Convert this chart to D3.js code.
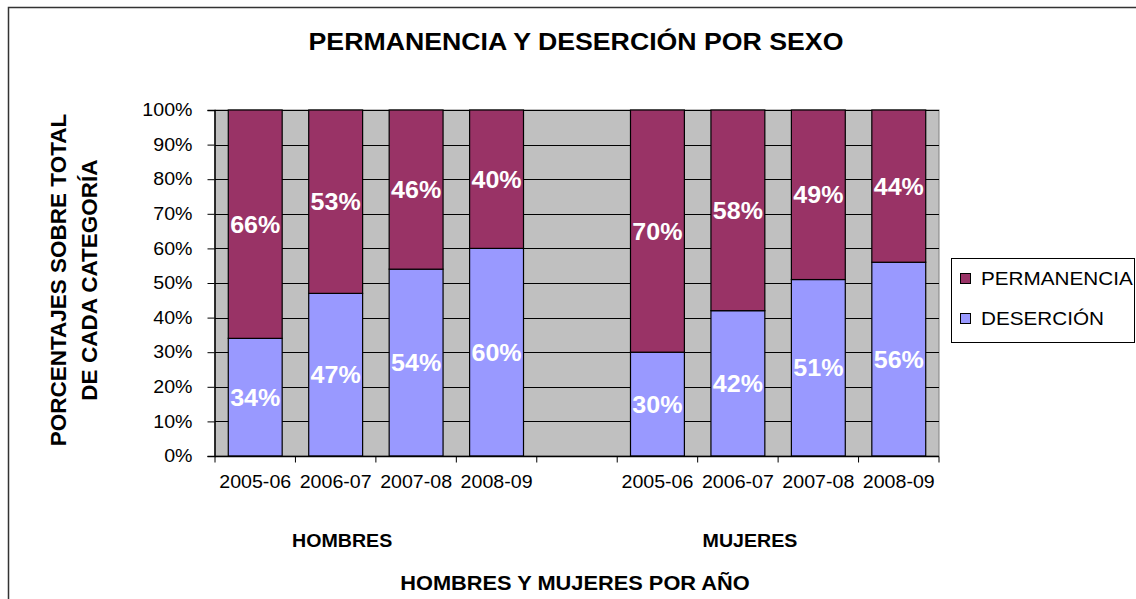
<!DOCTYPE html>
<html>
<head>
<meta charset="utf-8">
<script src="https://cdn.jsdelivr.net/npm/d3@7"></script>
<style>
  body { margin: 0; background: #fff; }
  text { font-family: "Liberation Sans", Arial, sans-serif; }
</style>
</head>
<body>
<svg width="1136" height="599"></svg>
<script>
// data
var years = ["2005-06", "2006-07", "2007-08", "2008-09"];
var groups = ["HOMBRES", "MUJERES"];
var desercion = [34, 47, 54, 60, 30, 42, 51, 56];
var permanencia = [66, 53, 46, 40, 70, 58, 49, 44];
var yTicks = [0, 10, 20, 30, 40, 50, 60, 70, 80, 90, 100];
var seriesNames = ["PERMANENCIA", "DESERCIÓN"];
var colors = ["#993366", "#9999FF"];

// slots: 4 hombres, one empty, 4 mujeres
var slots = ["H0", "H1", "H2", "H3", "gap", "M0", "M1", "M2", "M3"];
var barSlots = ["H0", "H1", "H2", "H3", "M0", "M1", "M2", "M3"];
var slotLabel = function(s) { return s == "gap" ? "" : years[+s[1]]; };

var SX = 1.09; // the original text is a bit wider than it is tall

var svg = d3.select("svg");
var pLeft = 215, pRight = 939, pTop = 110, pBottom = 456;

// horizontal text helper, stretched a little in x
function hText(g, x, y, str, size, bold, anchor, fill) {
  return g.append("text")
    .attr("transform", "translate(" + x + "," + y + ") scale(" + SX + ",1)")
    .attr("text-anchor", anchor || "middle")
    .attr("font-size", size + "px")
    .attr("font-weight", bold ? "bold" : "normal")
    .attr("fill", fill || "#000")
    .text(str);
}

// outer frame
svg.append("rect")
  .attr("x", 8.5).attr("y", 7.5)
  .attr("width", 1140).attr("height", 600)
  .attr("fill", "none").attr("stroke", "#333").attr("stroke-width", 1.5);

var x = d3.scaleBand().domain(slots).range([pLeft, pRight]).paddingInner(0).paddingOuter(0);
var y = d3.scaleLinear().domain([0, 100]).range([pBottom, pTop]);
var bw = x.bandwidth() * 0.67;

// plot background
svg.append("rect")
  .attr("x", pLeft).attr("y", pTop)
  .attr("width", pRight - pLeft).attr("height", pBottom - pTop)
  .attr("fill", "#C0C0C0").attr("stroke", "#808080").attr("stroke-width", 1);

// gridlines
svg.append("g").selectAll("line")
  .data(yTicks.slice(1)).enter()
  .append("line")
  .attr("x1", pLeft).attr("x2", pRight)
  .attr("y1", function(d) { return Math.round(y(d)) + 0.5; })
  .attr("y2", function(d) { return Math.round(y(d)) + 0.5; })
  .attr("stroke", "#000").attr("stroke-width", 1);

// stacked bars
var bars = svg.append("g");
barSlots.forEach(function(s, i) {
  var bx = x(s) + (x.bandwidth() - bw) / 2;
  var cx = x(s) + x.bandwidth() / 2;
  bars.append("rect")
    .attr("x", bx).attr("y", y(desercion[i]))
    .attr("width", bw).attr("height", y(0) - y(desercion[i]))
    .attr("fill", colors[1]).attr("stroke", "#000").attr("stroke-width", 1.2);
  bars.append("rect")
    .attr("x", bx).attr("y", y(desercion[i] + permanencia[i]))
    .attr("width", bw).attr("height", y(desercion[i]) - y(desercion[i] + permanencia[i]))
    .attr("fill", colors[0]).attr("stroke", "#000").attr("stroke-width", 1.2);

  hText(bars, cx, y(desercion[i] / 2) + 8.5, desercion[i] + "%", 23, true, "middle", "#fff");
  hText(bars, cx, y(desercion[i] + permanencia[i] / 2) + 8.5, permanencia[i] + "%", 23, true, "middle", "#fff");
});

// y axis
var yAxis = d3.axisLeft(y).tickValues(yTicks).tickSize(7).tickPadding(6)
  .tickFormat(function(d) { return d + "%"; });
var ya = svg.append("g").attr("transform", "translate(" + (pLeft - 0.5) + ",0)").call(yAxis);
ya.selectAll("text")
  .attr("font-size", "18px").attr("fill", "#000")
  .style("font-family", "'Liberation Sans', Arial, sans-serif")
  .attr("x", -22 / SX)
  .attr("transform", "scale(" + SX + ",1)");
ya.selectAll("line").attr("stroke", "#000");
ya.select(".domain").attr("stroke", "#000").attr("stroke-width", 1.5);

// x axis, ticks on slot boundaries
var xa = svg.append("g").attr("transform", "translate(0," + (pBottom + 0.5) + ")");
xa.append("line").attr("x1", pLeft).attr("x2", pRight).attr("stroke", "#000").attr("stroke-width", 1.5);
xa.selectAll(".tk")
  .data(slots.concat(["end"])).enter()
  .append("line")
  .attr("x1", function(d, i) { return pLeft + i * x.step(); })
  .attr("x2", function(d, i) { return pLeft + i * x.step(); })
  .attr("y1", 0).attr("y2", 6)
  .attr("stroke", "#000");
slots.forEach(function(s) {
  hText(xa, x(s) + x.bandwidth() / 2, 31.5, slotLabel(s), 18, false);
});

// group labels
hText(svg, x("H1") + x.bandwidth() * 0.58, 547, groups[0], 18, true);
hText(svg, x("M1") + x.bandwidth() * 0.65, 547, groups[1], 18, true);

// titles
hText(svg, 576, 50, "PERMANENCIA Y DESERCIÓN POR SEXO", 24.5, true);
hText(svg, 575, 590, "HOMBRES Y MUJERES POR AÑO", 20, true);

var yt = svg.append("text")
  .attr("transform", "translate(0,280) rotate(-90)")
  .attr("text-anchor", "middle")
  .attr("font-weight", "bold").attr("font-size", "22.5px");
yt.append("tspan").attr("x", 0).attr("y", 66).text("PORCENTAJES SOBRE TOTAL");
yt.append("tspan").attr("x", 0).attr("y", 97).text("DE CADA CATEGORÍA");

// legend
var lg = svg.append("g");
lg.append("rect")
  .attr("x", 951.5).attr("y", 258.5)
  .attr("width", 183).attr("height", 84)
  .attr("fill", "#fff").attr("stroke", "#000").attr("stroke-width", 1);
seriesNames.forEach(function(n, i) {
  lg.append("rect")
    .attr("x", 960.5).attr("y", 273.5 + i * 40)
    .attr("width", 10).attr("height", 10)
    .attr("fill", colors[i]).attr("stroke", "#000");
  hText(lg, 981, 285 + i * 40, n, 19, false, "start");
});
</script>
</body>
</html>
